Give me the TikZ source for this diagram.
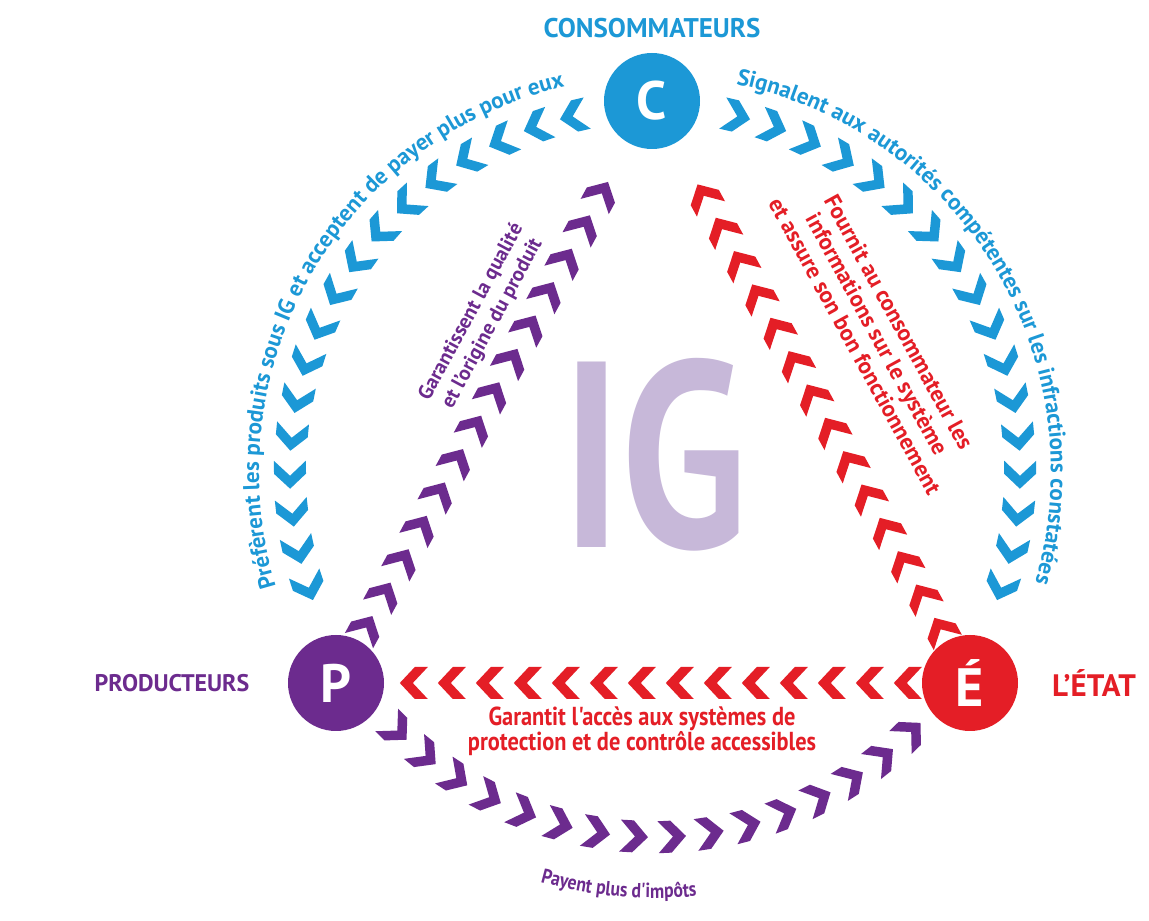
\documentclass[tikz,border=0pt]{standalone}
\usepackage{fontspec}
\setmainfont{PT Sans}
\newfontfamily\condfont[FakeStretch=0.86]{PT Sans}
\newfontfamily\igfont[FakeStretch=0.78]{PT Sans}
\usetikzlibrary{calc,decorations.markings,decorations.text}
\definecolor{cblue}{RGB}{28,152,214}
\definecolor{cpurple}{RGB}{108,43,142}
\definecolor{cred}{RGB}{228,30,38}
\definecolor{cig}{RGB}{199,184,217}
\tikzset{
  actor/.style={circle, fill=#1, text=white, inner sep=0pt, minimum size=96pt,
    font=\fontsize{54}{54}\selectfont\bfseries},
  actorlabel/.style={text=#1, inner sep=0pt},
  chevrons/.style n args={3}{decorate, decoration={markings,
    mark=between positions #1 and #2 step 38pt with
    {\fill[#3] (-14,-16) -- (-1,-16) -- (14,0) -- (-1,16) -- (-14,16) -- (1,0) -- cycle;}}},
  arctext/.style 2 args={decorate, decoration={text along path, text align=center,
    text color=#1, text={|\bfseries\fontsize{23}{23}\selectfont|#2}}},
  innertext/.style={text=#1, align=center, inner sep=0pt},
}
\begin{document}
\begin{tikzpicture}[x=1pt,y=1pt]
\useasboundingbox (0,0) rectangle (1149,921);
\fill[white] (0,0) rectangle (1149,921);
\coordinate (O) at (655,449);
% actors
\node[actor=cblue] (C) at (652,820) {C};
\node[actor=cpurple] (P) at (336,238) {P};
\node[actor=cred] (E) at (970,238) {É};
\node[actorlabel=cblue, font=\fontsize{27}{27}\selectfont\bfseries] (Cl) at (652,893) {CONSOMMATEURS};
\node[actorlabel=cpurple, font=\fontsize{24}{24}\selectfont\bfseries] (Pl) at (172,238) {PRODUCTEURS};
\node[actorlabel=cred, font=\fontsize{31}{31}\selectfont\bfseries] (El) at (1094,238) {L'ÉTAT};
% IG
\node[text=cig, inner sep=0pt, font=\igfont\bfseries\fontsize{265}{265}\selectfont] (IG) at (655,466) {IG};
% outer arcs of chevrons
\path[chevrons={12pt}{1}{cblue}] ($(O)+(101:365)$) arc[start angle=101, end angle=202, radius=365];
\path[chevrons={12pt}{1}{cblue}] ($(O)+(79:365)$) arc[start angle=79, end angle=-22, radius=365];
\path[chevrons={6pt}{580pt}{cpurple}] ($(O)+(224:365)$) arc[start angle=224, end angle=322, radius=365];
% inner chevrons between actors
\path[chevrons={14pt}{520pt}{cpurple}] (P) -- (C);
\path[chevrons={12pt}{520pt}{cred}] (E) -- (C);
\path[chevrons={14pt}{512pt}{cred}] (E) -- (P);
% arc texts
\path[arctext={cblue}{Préfèrent les produits sous IG et acceptent de payer plus pour eux}]
  ($(O)+(215:396)$) arc[start angle=215, end angle=85, radius=396];
\path[arctext={cblue}{Signalent aux autorités compétentes sur les infractions constatées}]
  ($(O)+(96:396)$) arc[start angle=96, end angle=-34, radius=396];
\path[decorate, decoration={text along path, text align=center, text color=cpurple,
    text={|\condfont\bfseries\fontsize{20.5}{20.5}\selectfont|Payent plus d'impôts}}]
  ($(O)+(240:426)$) arc[start angle=240, end angle=290, radius=426];
% inner texts
\node[innertext=cpurple, rotate=61.6, font=\bfseries\fontsize{20.5}{24}\selectfont] (tq) at (482,603) {Garantissent la qualité\\et l'origine du produit};
\node[innertext=cred, rotate=-61.3, font=\bfseries\fontsize{23}{25}\selectfont] (ti) at (877,587) {Fournit au consommateur les\\informations sur le système\\et assure son bon fonctionnement};
\node[innertext=cred, font=\condfont\bfseries\fontsize{26}{25}\selectfont] (ta) at (642,190) {Garantit l'accès aux systèmes de\\protection et de contrôle accessibles};
\end{tikzpicture}
\end{document}
